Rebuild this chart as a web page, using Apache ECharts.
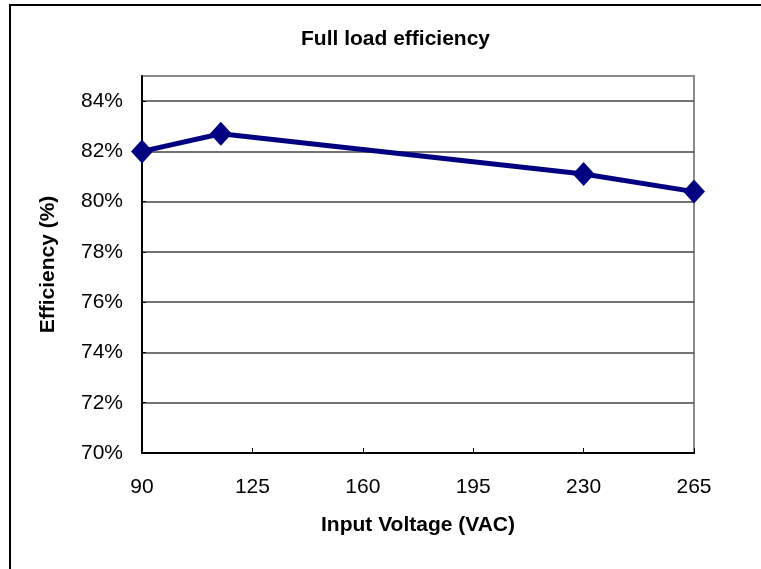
<!DOCTYPE html>
<html>
<head>
<meta charset="utf-8">
<script src="https://cdn.jsdelivr.net/npm/echarts@6/dist/echarts.min.js"></script>
<style>
  html, body { margin: 0; padding: 0; background: #fff; }
  #chart { width: 761px; height: 569px; }
</style>
</head>
<body>
<div id="chart"></div>
<script>
// input voltage (VAC) vs full load efficiency (%)
const voltages = [90, 115, 230, 265]
const efficiency = [82.0, 82.7, 81.1, 80.4]

const chart = echarts.init(document.getElementById('chart'))

const font = 'Arial, "Liberation Sans", sans-serif'

const option = {
  animation: false,
  title: {
    text: 'Full load efficiency',
    left: 296,
    top: 24,
    textStyle: { fontFamily: font, fontSize: 21, fontWeight: 'bold', color: '#000' }
  },
  graphic: [{
    type: 'rect',
    shape: { x: 10, y: 5, width: 800, height: 620 },
    style: { fill: 'none', stroke: '#000', lineWidth: 2 },
    silent: true
  }],
  grid: {
    left: 142, right: 67, top: 76, bottom: 116,
    show: true,
    borderColor: '#8c8c8c',
    borderWidth: 2
  },
  xAxis: {
    type: 'value',
    min: 90,
    max: 265,
    interval: 35,
    name: 'Input Voltage (VAC)',
    nameLocation: 'middle',
    nameGap: 62,
    nameTextStyle: { fontFamily: font, fontSize: 21, fontWeight: 'bold', color: '#000' },
    axisLine: { lineStyle: { color: '#000', width: 2 } },
    axisTick: { show: true, inside: true, length: 5, lineStyle: { color: '#000' } },
    axisLabel: { fontFamily: font, fontSize: 21, color: '#000', margin: 24 },
    splitLine: { show: false }
  },
  yAxis: {
    type: 'value',
    min: 70,
    max: 85,
    interval: 2,
    name: 'Efficiency (%)',
    nameLocation: 'middle',
    nameGap: 83,
    nameTextStyle: { fontFamily: font, fontSize: 21, fontWeight: 'bold', color: '#000' },
    axisLine: { show: true, lineStyle: { color: '#000', width: 2 } },
    axisTick: { show: true, inside: true, length: 4, lineStyle: { color: '#000' } },
    axisLabel: {
      fontFamily: font, fontSize: 21, color: '#000', margin: 19,
      showMaxLabel: false,
      formatter: v => v + '%'
    },
    splitLine: { show: true, showMaxLine: false, lineStyle: { color: '#444', width: 1.5 } }
  },
  series: [{
    type: 'line',
    data: voltages.map((v, i) => [v, efficiency[i]]),
    symbol: 'diamond',
    symbolSize: [22, 24],
    lineStyle: { color: '#000080', width: 5 },
    itemStyle: { color: '#000080' }
  }]
}

chart.setOption(option)
</script>
</body>
</html>
